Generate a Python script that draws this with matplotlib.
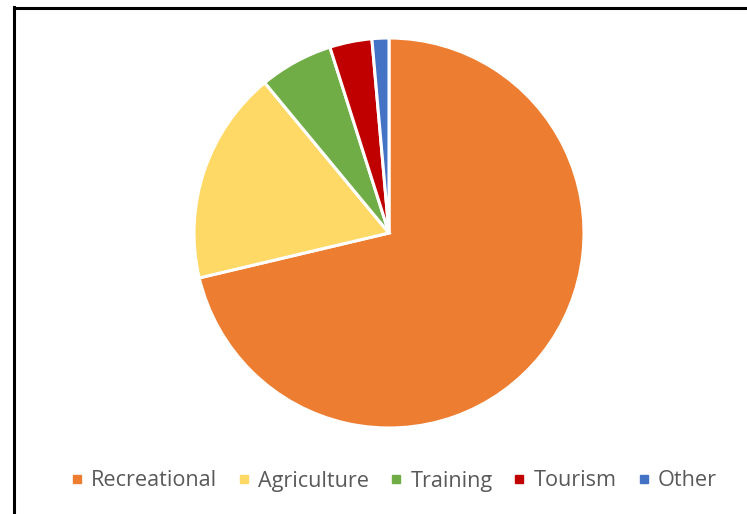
import matplotlib
matplotlib.use("Agg")
import matplotlib.pyplot as plt
from matplotlib.lines import Line2D

categories = ["Recreational", "Agriculture", "Training", "Tourism", "Other"]
values = [71.3, 17.7, 6.1, 3.5, 1.4]
colors = ["#ED7D31", "#FFD966", "#70AD47", "#C00000", "#4472C4"]

W, H = 747, 514
fig = plt.figure(figsize=(W / 100, H / 100), dpi=100)
cx, cy, r = 389, 233, 195
ax = fig.add_axes([(cx - r) / W, (H - cy - r) / H, 2 * r / W, 2 * r / H])
ax.pie(values, colors=colors, startangle=90, counterclock=False,
       wedgeprops=dict(edgecolor="white", linewidth=2.2))
ax.set_aspect("equal")
ax.set_xlim(-1, 1)
ax.set_ylim(-1, 1)
ax.axis("off")

# chart frame (left and top edges visible)
fig.add_artist(Line2D([14.5 / W, 14.5 / W], [0, 1 - 7 / H], transform=fig.transFigure, color="black", lw=2.2))
fig.add_artist(Line2D([14.5 / W, 1], [1 - 7.5 / H, 1 - 7.5 / H], transform=fig.transFigure, color="black", lw=2.2))

handles = [Line2D([], [], marker="s", linestyle="none", markersize=5.2, markerfacecolor=c, markeredgecolor=c) for c in colors]
fig.legend(handles, categories, loc="center", bbox_to_anchor=(394 / W, 1 - 481 / H), ncol=5, frameon=False,
           prop={"family": "Open Sans", "size": 15.6}, labelcolor="#595959", handletextpad=0.4,
           columnspacing=1.0, handlelength=0.5)

fig.savefig("out.png", dpi=100, facecolor="white")
